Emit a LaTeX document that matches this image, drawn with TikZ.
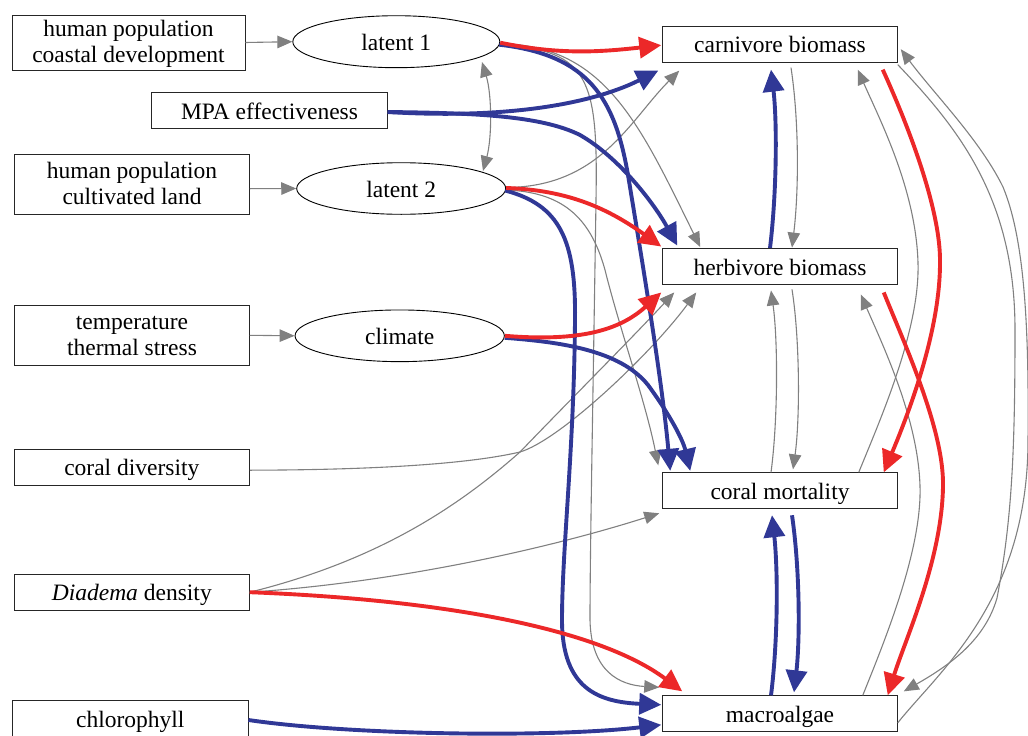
\documentclass[tikz,border=0pt]{standalone}
\usepackage{fontspec}
\setmainfont{Liberation Serif}
\usetikzlibrary{arrows.meta,shapes.geometric,calc}
\definecolor{redc}{RGB}{236,40,41}
\definecolor{bluec}{RGB}{48,56,150}
\definecolor{grayc}{RGB}{128,128,128}
\newcommand\nodefs{\fontsize{23.5}{25.7}\selectfont}
\tikzset{
  box/.style={draw=black!85, line width=0.9pt, rectangle, inner sep=0pt, align=center, font=\nodefs, text height=17.4pt, text depth=0pt},
  twoline/.style={text height=41.7pt, text depth=2.1pt},
  ell/.style={draw=black, line width=0.9pt, ellipse, inner sep=0pt, font=\nodefs, text height=17.4pt, text depth=0pt},
  garr/.style={draw=grayc, line width=1.1pt, -{Triangle[length=15pt,width=12.5pt]}},
  gbi/.style={draw=grayc, line width=1.1pt, {Triangle[length=15pt,width=12.5pt]}-{Triangle[length=15pt,width=12.5pt]}},
  rarr/.style={draw=redc, line width=3.9pt, -{Triangle[length=22pt,width=21pt]}},
  barr/.style={draw=bluec, line width=3.9pt, -{Triangle[length=22pt,width=21pt]}},
}
\begin{document}
\begin{tikzpicture}[x=1pt,y=-1pt]
\useasboundingbox (0,0) rectangle (1028,736);
% left nodes
\node[box, twoline, minimum width=233pt, minimum height=55pt] (hpcd) at (128.5,42.5) {human population\\coastal development};
\node[ell, minimum width=207pt, minimum height=52pt] (lat1) at (396.3,41.7) {latent 1};
\node[box, minimum width=235.5pt, minimum height=35.5pt] (mpa) at (269.5,110.5) {MPA effectiveness};
\node[box, twoline, minimum width=234.6pt, minimum height=59.7pt] (hpcl) at (132,184.2) {human population\\cultivated land};
\node[ell, minimum width=209pt, minimum height=51.6pt] (lat2) at (401.2,188.5) {latent 2};
\node[box, twoline, minimum width=234.6pt, minimum height=60.7pt] (tts) at (132,335.3) {temperature\\thermal stress};
\node[ell, minimum width=209.3pt, minimum height=51.7pt] (clim) at (399.7,335.8) {climate};
\node[box, minimum width=235pt, minimum height=35.7pt] (cordiv) at (131.8,467.2) {coral diversity};
\node[box, minimum width=235pt, minimum height=35.7pt] (diad) at (131.8,592.2) {\textit{Diadema} density};
\node[box, minimum width=235.3pt, minimum height=35.7pt] (chl) at (130.3,718.5) {chlorophyll};
% right nodes
\node[box, minimum width=234.6pt, minimum height=36pt] (carn) at (780,44.2) {carnivore biomass};
\node[box, minimum width=234.6pt, minimum height=36pt] (herb) at (780,266.5) {herbivore biomass};
\node[box, minimum width=234.6pt, minimum height=36pt] (coral) at (780,490.8) {coral mortality};
\node[box, minimum width=234.6pt, minimum height=36pt] (macro) at (780,713.8) {macroalgae};

% gray edges
\draw[garr] (hpcd.east) -- (lat1.west);
\draw[garr] ($(hpcl.east)+(0,4.5)$) -- (lat2.west);
\draw[garr] (tts.east) -- (clim.west);
\draw[gbi] ($(lat1.center)+(85.7,20.3)$) .. controls (492,95) and (492,138) .. ($(lat2.center)+(81.8,-17.5)$);
\draw[garr] ($(lat1.east)+(0,2)$) .. controls (605,45) and (640,125) .. ($(herb.north west)+(38,-1)$);
\draw[garr] ($(lat1.east)+(0,3)$) .. controls (590,50) and (598,80) .. (596,200) .. controls (593,400) and (590,550) .. (590,620) .. controls (591,672) and (620,685) .. ($(macro.north west)+(-3,-8)$);
\draw[garr] ($(lat2.east)+(0,-1)$) .. controls (600,187) and (630,120) .. ($(carn.south west)+(17,8)$);
\draw[garr] ($(lat2.east)+(0,1.5)$) .. controls (560,192) and (590,215) .. (605,270) .. controls (620,330) and (645,400) .. ($(coral.north west)+(-4,-7)$);
\draw[garr] ($(cordiv.east)+(0,3)$) .. controls (350,470) and (460,466) .. (520,452) .. controls (560,440) and (650,355) .. ($(herb.south west)+(34,7.5)$);
\draw[garr] (diad.east) .. controls (380,560) and (460,505) .. (520,452) .. controls (570,400) and (630,340) .. ($(herb.south west)+(12,7.5)$);
\draw[garr] (diad.east) .. controls (400,582) and (550,548) .. ($(coral.south west)+(-3,4)$);
\draw[garr] ($(carn.south)+(11,5)$) .. controls (799,120) and (799,190) .. ($(herb.north)+(12,-0.5)$);
\draw[garr] ($(coral.north)+(-9,0)$) .. controls (778,420) and (778,340) .. ($(herb.south)+(-9,5.5)$);
\draw[garr] ($(herb.south)+(12,4.5)$) .. controls (800,340) and (800,420) .. ($(coral.north)+(13,-3)$);
\draw[garr] ($(coral.north east)+(-39,0)$) .. controls (880,420) and (920,330) .. (918,263) .. controls (916,190) and (880,120) .. ($(carn.south east)+(-40,7)$);
\draw[garr] ($(macro.north east)+(-35,0)$) .. controls (885,640) and (922,550) .. (920,486) .. controls (918,420) and (885,350) .. ($(herb.south east)+(-37,9.5)$);
\draw[garr] ($(carn.south east)+(0,2)$) .. controls (960,130) and (1015,200) .. (1015,330) .. controls (1015,450) and (1012,520) .. (997,598) .. controls (985,640) and (950,665) .. ($(macro.north east)+(6,-4)$);
\draw[garr] ($(macro.east)+(0,9)$) .. controls (940,670) and (1028,600) .. (1028,440) .. controls (1029,330) and (1025,240) .. (1003,187) .. controls (980,140) and (935,95) .. ($(carn.east)+(3,5)$);

% blue edges
\draw[barr] ($(lat1.east)+(-1,3)$) .. controls (590,55) and (615,100) .. (628,175) .. controls (642,260) and (662,380) .. ($(coral.north west)+(8,-1.5)$);
\draw[barr] ($(mpa.east)+(0,1.5)$) .. controls (520,120) and (600,100) .. ($(carn.south west)+(-4,8)$);
\draw[barr] ($(mpa.east)+(0,1.5)$) .. controls (470,113) and (540,115) .. (580,135) .. controls (620,158) and (655,205) .. ($(herb.north west)+(15,-2.5)$);
\draw[barr] ($(lat2.east)+(-1,2)$) .. controls (560,205) and (576,240) .. (575,320) .. controls (574,450) and (562,550) .. (562,620) .. controls (562,690) and (600,702) .. ($(macro.west)+(-1,-9)$);
\draw[barr] ($(clim.east)+(0,2)$) .. controls (560,342) and (620,350) .. (648,385) .. controls (670,415) and (683,440) .. ($(coral.north west)+(28,-1.5)$);
\draw[barr] ($(chl.east)+(0,1.5)$) .. controls (350,735) and (550,738) .. ($(macro.west)+(-1,11)$);
\draw[barr] ($(herb.north)+(-10,0)$) .. controls (777,190) and (777,120) .. ($(carn.south)+(-9,7)$);
\draw[barr] ($(macro.north)+(-9,0)$) .. controls (778,640) and (778,570) .. ($(coral.south)+(-8,6)$);
\draw[barr] ($(coral.south)+(12,6)$) .. controls (800,570) and (800,640) .. ($(macro.north)+(14,-3)$);

% red edges
\draw[rarr] ($(lat1.east)+(0,1)$) .. controls (560,55) and (600,52) .. ($(carn.west)+(-1,1)$);
\draw[rarr] ($(lat2.east)+(0,-0.5)$) .. controls (570,190) and (610,210) .. ($(herb.north west)+(-1,-1.5)$);
\draw[rarr] (clim.east) .. controls (580,342) and (620,330) .. ($(herb.south west)+(-1,7.5)$);
\draw[rarr] (diad.east) .. controls (450,600) and (600,630) .. ($(macro.north west)+(20,-4)$);
\draw[rarr] ($(carn.south east)+(-15,7)$) .. controls (902,112) and (941,205) .. (940,263) .. controls (940,330) and (910,410) .. ($(coral.north east)+(-14,0)$);
\draw[rarr] ($(herb.south east)+(-14,7.5)$) .. controls (905,345) and (944,430) .. (943,486) .. controls (942,560) and (905,640) .. ($(macro.north east)+(-10,0)$);
\end{tikzpicture}
\end{document}
